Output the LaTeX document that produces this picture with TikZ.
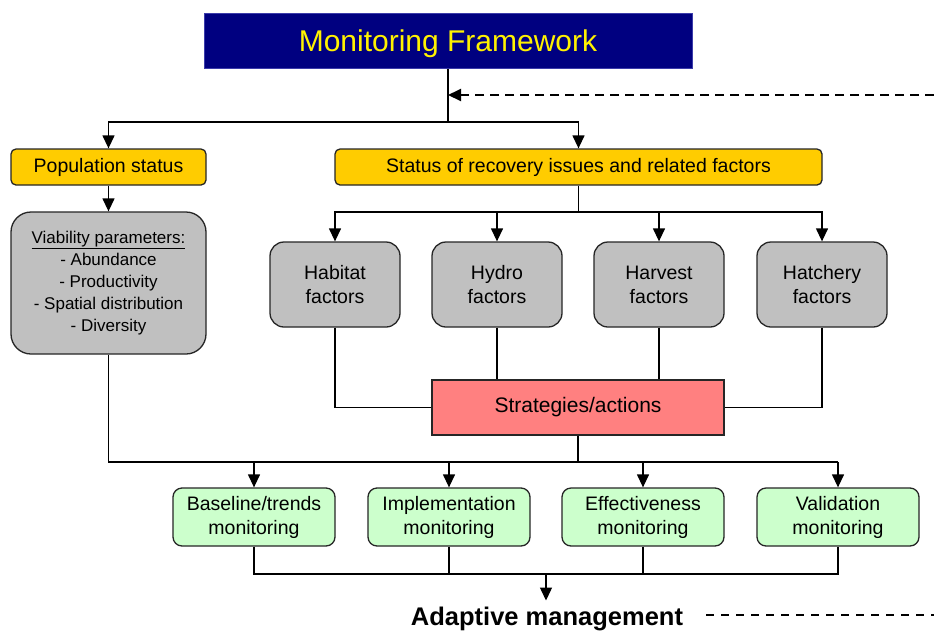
\documentclass[tikz,border=0pt]{standalone}
\usepackage{fontspec}
\setmainfont{Liberation Sans}
\usetikzlibrary{arrows.meta}
\definecolor{navyc}{RGB}{0,0,128}
\definecolor{navyborder}{RGB}{60,60,170}
\definecolor{goldc}{RGB}{255,204,0}
\definecolor{grayc}{RGB}{192,192,192}
\definecolor{salmonc}{RGB}{255,128,128}
\definecolor{mintc}{RGB}{204,255,204}
\tikzset{
  box/.style={draw=black!85, line width=1.3pt, align=center, inner sep=0pt, text=black},
  titlebox/.style={box, fill=navyc, text=yellow, font=\fontsize{30}{34}\selectfont, draw=navyborder, line width=1pt, text depth=0pt},
  goldbox/.style={box, fill=goldc, rounded corners=5pt, font=\fontsize{19.5}{24}\selectfont},
  factbox/.style={box, fill=grayc, rounded corners=14pt, font=\fontsize{19.5}{24}\selectfont},
  monbox/.style={box, fill=mintc, rounded corners=9pt, font=\fontsize{19.5}{24}\selectfont},
  stratbox/.style={box, fill=salmonc, font=\fontsize{21}{24}\selectfont},
  conn/.style={draw=black, line width=1.3pt},
  arr/.style={conn, -{Triangle[length=13pt,width=12pt]}},
  dashline/.style={draw=black, line width=2pt, dash pattern=on 9pt off 6pt},
}
\begin{document}
\begin{tikzpicture}[x=1pt,y=-1pt]
\useasboundingbox[fill=white] (0,0) rectangle (934,630);

\node[titlebox, minimum width=488pt, minimum height=55pt] (title) at (448,40.5) {Monitoring Framework};

\node[goldbox, minimum width=195pt, minimum height=36pt] (pop) at (108.5,167) {Population status};
\node[goldbox, minimum width=487pt, minimum height=36pt] (stat) at (578.5,167) {Status of recovery issues and related factors};

\node[factbox, rounded corners=20pt, minimum width=195pt, minimum height=142pt, font=\fontsize{17}{22}\selectfont] (via) at (108.5,283)
  {\underline{Viability parameters:}\\- Abundance\\- Productivity\\- Spatial distribution\\- Diversity};

\node[factbox, minimum width=130pt, minimum height=85pt] (hab) at (335,284.5) {Habitat\\factors};
\node[factbox, minimum width=130pt, minimum height=85pt] (hyd) at (497,284.5) {Hydro\\factors};
\node[factbox, minimum width=130pt, minimum height=85pt] (har) at (659,284.5) {Harvest\\factors};
\node[factbox, minimum width=130pt, minimum height=85pt] (hat) at (822,284.5) {Hatchery\\factors};

\node[stratbox, minimum width=292pt, minimum height=55pt] (strat) at (578,407.5) {Strategies/actions};

\node[monbox, minimum width=162pt, minimum height=58pt] (base) at (254,517) {Baseline/trends\\monitoring};
\node[monbox, minimum width=162pt, minimum height=58pt] (impl) at (449,517) {Implementation\\monitoring};
\node[monbox, minimum width=162pt, minimum height=58pt] (eff) at (643,517) {Effectiveness\\monitoring};
\node[monbox, minimum width=162pt, minimum height=58pt] (val) at (838,517) {Validation\\monitoring};

\node[font=\bfseries\fontsize{25.5}{28}\selectfont, inner sep=2pt, outer ysep=4pt, anchor=base] (adapt) at (547,625) {Adaptive management};

% top connectors
\coordinate (j1) at (448,122);
\coordinate (dR1) at (934,95);
\draw[conn] (title.south) -- (j1);
\draw[arr] (j1) -| (pop.north);
\draw[arr] (j1) -| (stat.north);
\draw[dashline, -{Triangle[length=13pt,width=12pt]}] (dR1) -- (dR1 -| j1);
\draw[arr] (pop.south) -- (via.north);

% factors
\coordinate (j2) at (578.5,212);
\draw[conn] (stat.south) -- (j2);
\draw[arr] (j2) -| (hab.north);
\draw[arr] (j2) -| (hyd.north);
\draw[arr] (j2) -| (har.north);
\draw[arr] (j2) -| (hat.north);

\draw[conn] (hab.south) |- (strat.west);
\draw[conn] (hyd.south) -- (hyd.south |- strat.north);
\draw[conn] (har.south) -- (har.south |- strat.north);
\draw[conn] (hat.south) |- (strat.east);

% to monitoring
\coordinate (j3) at (578,462);
\coordinate (hb) at (838,462);
\draw[conn] (strat.south) -- (j3);
\draw[conn] (via.south) |- (hb);
\draw[arr] (base.north |- hb) -- (base.north);
\draw[arr] (impl.north |- hb) -- (impl.north);
\draw[arr] (eff.north |- hb) -- (eff.north);
\draw[arr] (hb) -- (val.north);

% bottom
\coordinate (j4) at (546,574);
\draw[conn] (base.south) |- (j4 -| val.south) -- (val.south);
\draw[conn] (impl.south) -- (impl.south |- j4);
\draw[conn] (eff.south) -- (eff.south |- j4);
\draw[arr] (j4) -- (adapt.north -| j4);

\coordinate (dR2) at (934,615);
\draw[dashline, dash pattern=on 8pt off 7pt] (adapt.east |- dR2) ++(21,0) -- (dR2);
\end{tikzpicture}
\end{document}
